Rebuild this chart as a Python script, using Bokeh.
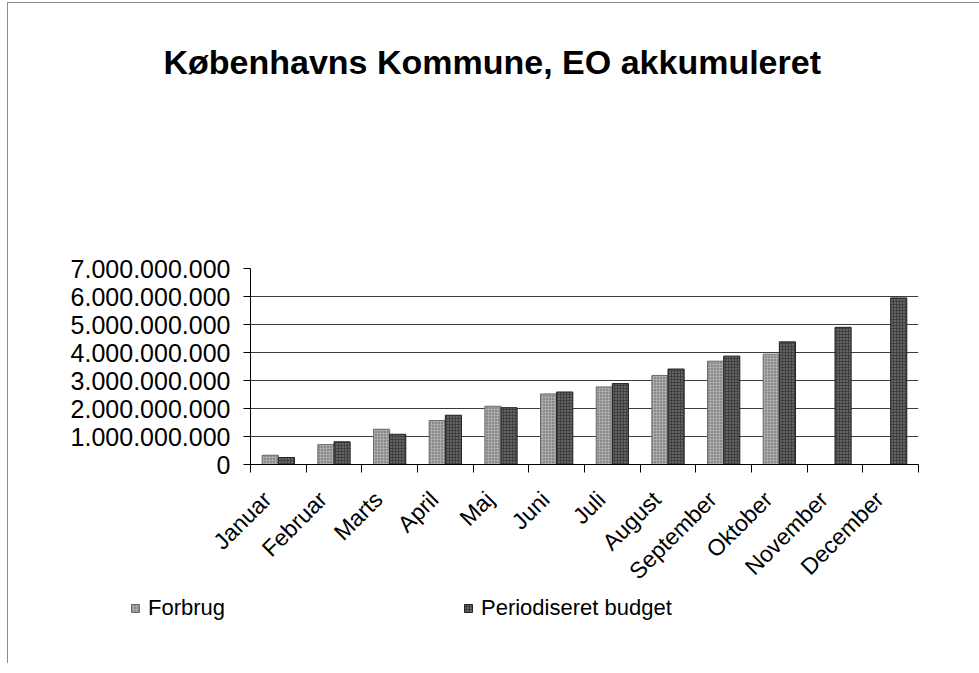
from math import pi
from bokeh.plotting import figure
from bokeh.layouts import column
from bokeh.models import (ColumnDataSource, FixedTicker, Legend, LegendItem, Range1d, Title)
from bokeh.embed import file_html
from bokeh.resources import INLINE

# ---------------- data ----------------
months = ["Januar", "Februar", "Marts", "April", "Maj", "Juni", "Juli",
          "August", "September", "Oktober", "November", "December"]
forbrug = [0.33e9, 0.71e9, 1.26e9, 1.57e9, 2.08e9, 2.52e9, 2.77e9,
           3.18e9, 3.69e9, 3.94e9]
budget = [0.25e9, 0.81e9, 1.08e9, 1.76e9, 2.03e9, 2.59e9, 2.89e9,
          3.41e9, 3.87e9, 4.38e9, 4.90e9, 5.95e9]
y_ticks = [0, 1e9, 2e9, 3e9, 4e9, 5e9, 6e9, 7e9]
y_tick_labels = ["0", "1.000.000.000", "2.000.000.000", "3.000.000.000",
                 "4.000.000.000", "5.000.000.000", "6.000.000.000", "7.000.000.000"]
title_text = "Københavns Kommune, EO akkumuleret"
series_names = ["Forbrug", "Periodiseret budget"]

FONT = "Liberation Sans"
OFF = 0.145
BW = 0.29
LABEL_SHIFT = 0.2
W = 971
TITLE_H = 100

F_STYLE = dict(fill_color="#ababab", line_color="#6a6a6a", line_width=1,
               hatch_pattern="dot", hatch_color="#555555", hatch_scale=3, hatch_weight=1)
B_STYLE = dict(fill_color="#404040", line_color="#222222", line_width=1,
               hatch_pattern="dot", hatch_color="#9a9a9a", hatch_scale=3, hatch_weight=1)

centers = [i + 0.5 for i in range(len(months))]
bounds = list(range(len(months) + 1))
label_pos = [c - LABEL_SHIFT for c in centers]


def strip(height, **kw):
    f = figure(width=W, height=height, output_backend="svg", toolbar_location=None,
               x_axis_type=None, y_axis_type=None, **kw)
    if "frame_align" in f.properties():
        f.frame_align = False
    f.outline_line_color = None
    f.xgrid.visible = False
    f.ygrid.visible = False
    f.background_fill_alpha = 0
    f.border_fill_alpha = 0
    return f


# ---------------- title strip ----------------
tf = strip(TITLE_H, title=None, x_range=Range1d(0, 1), y_range=Range1d(0, 1),
           min_border_left=0, min_border_right=0, min_border_bottom=0, min_border_top=77)
tf.add_layout(Title(text=title_text, text_font=FONT, text_font_size="34px",
                    text_font_style="bold", text_color="black",
                    align="left", offset=155, vertical_align="bottom", standoff=0), "above")

# ---------------- main chart ----------------
p = figure(width=W, height=593 - TITLE_H, output_backend="svg", toolbar_location=None,
           title=None, x_range=Range1d(0, len(months)), y_range=Range1d(0, 7e9),
           min_border_left=242, min_border_right=61,
           min_border_top=265 - TITLE_H, min_border_bottom=132)
p.outline_line_color = None
p.background_fill_color = "white"
p.border_fill_color = "white"

src_f = ColumnDataSource(dict(x=[centers[i] - OFF for i in range(len(forbrug))], top=forbrug))
src_b = ColumnDataSource(dict(x=[centers[i] + OFF for i in range(len(budget))], top=budget))

p.vbar(x="x", top="top", bottom=0, width=BW, source=src_f, **F_STYLE)
p.vbar(x="x", top="top", bottom=0, width=BW, source=src_b, **B_STYLE)

# y axis
p.yaxis.ticker = FixedTicker(ticks=y_ticks)
p.yaxis.major_label_overrides = {t: l for t, l in zip(y_ticks, y_tick_labels)}
p.yaxis.major_label_text_font = FONT
p.yaxis.major_label_text_font_size = "25px"
p.yaxis.major_label_text_color = "black"
p.yaxis.major_label_standoff = 13
p.yaxis.major_tick_out = 7
p.yaxis.major_tick_in = 0
p.yaxis.minor_tick_line_color = None
p.yaxis.axis_line_color = "black"
p.yaxis.major_tick_line_color = "black"

# x axis
p.xaxis.ticker = FixedTicker(ticks=label_pos, minor_ticks=bounds)
p.xaxis.major_label_overrides = {c: m for c, m in zip(label_pos, months)}
p.xaxis.major_label_orientation = pi / 4
p.xaxis.major_label_text_font = FONT
p.xaxis.major_label_text_font_size = "23px"
p.xaxis.major_label_text_color = "black"
p.xaxis.major_label_standoff = 23
p.xaxis.major_tick_out = 0
p.xaxis.major_tick_in = 0
p.xaxis.major_tick_line_color = None
p.xaxis.minor_tick_out = 8
p.xaxis.minor_tick_in = 0
p.xaxis.minor_tick_line_color = "black"
p.xaxis.axis_line_color = "black"

# grid
p.xgrid.visible = False
p.ygrid.ticker = FixedTicker(ticks=y_ticks)
p.ygrid.grid_line_color = "#3c3c3c"
p.ygrid.grid_line_width = 1

# ---------------- legend strip ----------------
# legend proxies reuse the series sources, with ranges that keep every bar out of view
lg = strip(67, x_range=Range1d(-6, -5), y_range=Range1d(-2e10, -1e10), min_border=0)
lf = lg.vbar(x="x", top="top", bottom=0, width=BW, source=src_f, **F_STYLE)
lb = lg.vbar(x="x", top="top", bottom=0, width=BW, source=src_b, **B_STYLE)

for name, rend, loc in [(series_names[0], lf, (122, 42)),
                        (series_names[1], lb, (455, 42))]:
    leg = Legend(items=[LegendItem(label=name, renderers=[rend])], location=loc,
                 orientation="horizontal", padding=0, margin=0,
                 border_line_color=None, background_fill_alpha=0,
                 glyph_width=10, glyph_height=10, label_standoff=8,
                 label_text_font=FONT, label_text_font_size="22px",
                 label_text_color="black")
    lg.add_layout(leg)

layout = column(tf, p, lg, spacing=0)
layout.styles = {"margin-left": "7px", "margin-top": "2px",
                 "border-left": "1px solid #8c8c8c", "border-top": "1px solid #8c8c8c"}

open("out.html", "w").write(file_html(layout, INLINE))
